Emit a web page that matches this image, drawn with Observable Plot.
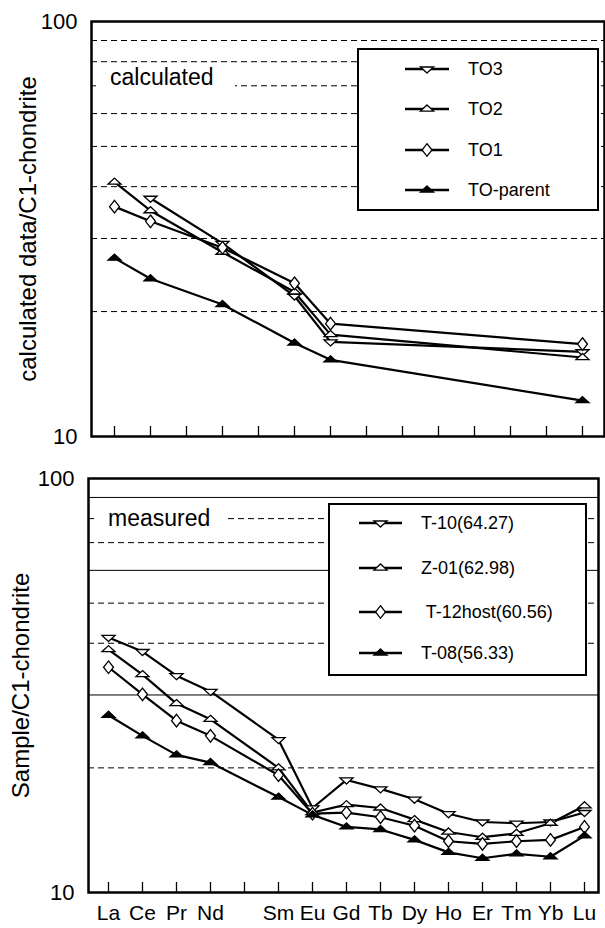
<!DOCTYPE html>
<html><head><meta charset="utf-8">
<script src="https://cdn.jsdelivr.net/npm/d3@7"></script>
<script src="https://cdn.jsdelivr.net/npm/@observablehq/plot@0.6"></script>
<style>
body{margin:0;background:#fff;}
#wrap{position:relative;width:605px;height:928px;font-family:"Liberation Sans",Arial,sans-serif;color:#000;}
#wrap > svg{display:block}
.tag{position:absolute;background:#fff;font-size:23px;line-height:27px;white-space:pre;}
.legend{position:absolute;background:#fff;border:2.5px solid #000;box-sizing:border-box;}
.row{position:absolute;left:0;height:30px;width:100%;}
.row svg{position:absolute;top:0;}
.row span{position:absolute;top:0;line-height:30px;font-size:18px;white-space:pre;}
</style></head><body><div id="wrap"></div>
<script>
// ---------- data ----------
const topSlots = ["La","Ce","Pr","Nd","Pm","Sm","Eu","Gd","Tb","Dy","Ho","Er","Yb","Lu"];
const topElements = ["La","Ce","Nd","Sm","Eu","Lu"];
const topNames = ["TO3","TO2","TO1","TO-parent"];
const topTO3 = [null, 37.5, 29.2, 21.8, 16.9, 16.0];
const topTO2 = [41.0, 35.0, 27.8, 22.3, 17.6, 15.5];
const topTO1 = [35.8, 33.0, 28.5, 23.4, 18.7, 16.7];
const topTOparent = [26.9, 24.0, 20.8, 16.8, 15.3, 12.2];
const topTitle = "calculated data/C1-chondrite";
const topTag = "calculated";
const topGrid = [20, 30, 40, 50, 60, 70, 80, 90];

const botSlots = ["La","Ce","Pr","Nd","Pm","Sm","Eu","Gd","Tb","Dy","Ho","Er","Tm","Yb","Lu"];
const botHidden = ["Pm"];
const botElements = ["La","Ce","Pr","Nd","Sm","Eu","Gd","Tb","Dy","Ho","Er","Tm","Yb","Lu"];
const botNames = ["T-10(64.27)","Z-01(62.98)"," T-12host(60.56)","T-08(56.33)"];
const botT10 = [41.3, 38.2, 33.4, 30.6, 23.4, 16.0, 18.7, 17.8, 16.8, 15.5, 14.8, 14.7, 14.8, 15.6];
const botZ01 = [38.6, 33.6, 28.6, 26.2, 20.0, 15.6, 16.3, 16.0, 15.0, 14.0, 13.6, 13.9, 14.7, 16.2];
const botT12 = [35.0, 30.1, 26.0, 23.9, 19.2, 15.5, 15.6, 15.2, 14.5, 13.3, 13.1, 13.3, 13.4, 14.4];
const botT08 = [26.8, 23.9, 21.5, 20.6, 17.0, 15.4, 14.4, 14.2, 13.4, 12.5, 12.1, 12.4, 12.2, 13.7];
const botTitle = "Sample/C1-chondrite";
const botTag = "measured";
const botGridDashed = [20, 40, 50, 70, 80];
const botGridSolid = [30, 60, 90];

const yTicks = [10, 100];

// ---------- symbols ----------
function tri(up) {
  return {draw(ctx, size) {
    const r = Math.sqrt(size / Math.PI), w = r * 1.45, h = r * 1.35, s = up ? 1 : -1;
    ctx.moveTo(0, -s * h * 2 / 3); ctx.lineTo(w, s * h / 3); ctx.lineTo(-w, s * h / 3); ctx.closePath();
  }};
}
const diamond = {draw(ctx, size) {
  const r = Math.sqrt(size / Math.PI), w = r * 1.1, h = r * 1.4;
  ctx.moveTo(0, -h); ctx.lineTo(w, 0); ctx.lineTo(0, h); ctx.lineTo(-w, 0); ctx.closePath();
}};
const styles = [
  {symbol: tri(false), fill: "white"},
  {symbol: tri(true), fill: "white"},
  {symbol: diamond, fill: "white"},
  {symbol: tri(true), fill: "black"}
];
const R = 4.5;

function rowsOf(elements, values) {
  return elements.map((el, i) => ({el, v: values[i]})).filter(d => d.v != null);
}

function seriesMarks(elements, valueLists) {
  const marks = [];
  valueLists.forEach((vals) => {
    marks.push(Plot.line(rowsOf(elements, vals), {x: "el", y: "v", stroke: "black", strokeWidth: 2.2}));
  });
  valueLists.forEach((vals, i) => {
    marks.push(Plot.dot(rowsOf(elements, vals), {x: "el", y: "v", r: R, symbol: styles[i].symbol, fill: styles[i].fill, stroke: "black", strokeWidth: 1.3}));
  });
  return marks;
}

const font = '"Liberation Sans", Arial, sans-serif';
const wrap = document.getElementById("wrap");

// ---------- top panel ----------
const topH = 450, topMT = 21, topMB = 14;
const topPlot = Plot.plot({
  width: 605, height: topH,
  marginLeft: 91, marginRight: 1, marginTop: topMT, marginBottom: topMB,
  style: {fontFamily: font, background: "white", color: "black"},
  x: {type: "point", domain: topSlots, padding: 0, insetLeft: 18, insetRight: 17, axis: null},
  y: {type: "log", domain: [10, 100]},
  marks: [
    Plot.ruleY(topGrid, {stroke: "black", strokeWidth: 1, strokeDasharray: "6,4"}),
    Plot.tickX(topSlots, {x: d => d, insetTop: topH - topMT - topMB - 10, stroke: "black", strokeWidth: 1.3}),
    ...seriesMarks(topElements, [topTO3, topTO2, topTO1, topTOparent]),
    Plot.axisY({ticks: yTicks, tickFormat: d => String(d), tickSize: 0, tickPadding: 14, fontSize: 22, label: null}),
    Plot.text([topTitle], {frameAnchor: "left", dx: -63, rotate: -90, fontSize: 24, textAnchor: "middle", lineAnchor: "middle"}),
    Plot.frame({stroke: "black", strokeWidth: 2.5})
  ]
});
wrap.appendChild(topPlot);

// ---------- bottom panel ----------
const botH = 478, botMT = 28, botMB = 36;
const botPlot = Plot.plot({
  width: 605, height: botH,
  marginLeft: 88, marginRight: 7, marginTop: botMT, marginBottom: botMB,
  style: {fontFamily: font, background: "white", color: "black"},
  x: {type: "point", domain: botSlots, padding: 0, insetLeft: 17, insetRight: 11},
  y: {type: "log", domain: [10, 100]},
  marks: [
    Plot.ruleY(botGridDashed, {stroke: "black", strokeWidth: 1, strokeDasharray: "6,4"}),
    Plot.ruleY(botGridSolid, {stroke: "black", strokeWidth: 1}),
    Plot.tickX(botSlots, {x: d => d, insetTop: botH - botMT - botMB - 10, stroke: "black", strokeWidth: 1.3}),
    ...seriesMarks(botElements, [botT10, botZ01, botT12, botT08]),
    Plot.axisX({tickSize: 0, tickPadding: 13, fontSize: 21, label: null, tickFormat: d => botHidden.includes(d) ? "" : d}),
    Plot.axisY({ticks: yTicks, tickFormat: d => String(d), tickSize: 0, tickPadding: 14, fontSize: 22, label: null}),
    Plot.text([botTitle], {frameAnchor: "left", dx: -67, rotate: -90, fontSize: 24, textAnchor: "middle", lineAnchor: "middle"}),
    Plot.frame({stroke: "black", strokeWidth: 2.5})
  ]
});
wrap.appendChild(botPlot);

// ---------- tags ----------
function tag(text, left, top, width, pad) {
  const d = document.createElement("div");
  d.className = "tag";
  d.style.left = left + "px"; d.style.top = top + "px"; d.style.width = width + "px";
  d.style.paddingLeft = pad + "px"; d.style.boxSizing = "border-box";
  d.textContent = text;
  wrap.appendChild(d);
}
tag(topTag, 96, 64, 139, 14);
tag(botTag, 95, 505, 133, 13);

// ---------- legends ----------
function legend(names, box, rowYs, lineX0, lineX1, textX) {
  const lg = document.createElement("div");
  lg.className = "legend";
  Object.assign(lg.style, {left: box[0] + "px", top: box[1] + "px", width: box[2] + "px", height: box[3] + "px"});
  names.forEach((name, i) => {
    const row = document.createElement("div");
    row.className = "row";
    row.style.top = (rowYs[i] - 15) + "px";
    const svg = d3.create("svg").attr("width", lineX1 + 4).attr("height", 30).style("left", "0px");
    svg.append("line").attr("x1", lineX0).attr("x2", lineX1).attr("y1", 15).attr("y2", 15)
      .attr("stroke", "black").attr("stroke-width", 2.6);
    svg.append("path").attr("transform", `translate(${(lineX0 + lineX1) / 2},15)`)
      .attr("d", d3.symbol(styles[i].symbol, Math.PI * R * R)())
      .attr("fill", styles[i].fill).attr("stroke", "black").attr("stroke-width", 1.3);
    row.appendChild(svg.node());
    const sp = document.createElement("span");
    sp.style.left = textX + "px";
    sp.textContent = name;
    row.appendChild(sp);
    lg.appendChild(row);
  });
  wrap.appendChild(lg);
}
legend(topNames, [357, 48, 242, 163], [19, 59, 100, 140], 46, 90, 109);
legend(botNames, [328, 503, 259, 173], [18, 63, 107, 148], 29, 72, 91);
</script></body></html>
